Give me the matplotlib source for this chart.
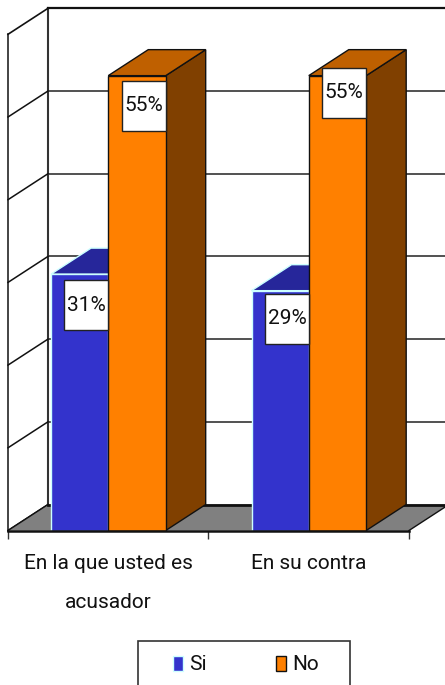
import matplotlib
matplotlib.use("Agg")
import matplotlib.pyplot as plt
from matplotlib.patches import Polygon, Rectangle

plt.rcParams['font.family'] = ['Roboto', 'Liberation Sans', 'DejaVu Sans']

categories = ['En la que usted es\nacusador', 'En su contra']
series_names = ['Si', 'No']
si_values = [31, 29]
no_values = [55, 55]
grid_values = [10, 20, 30, 40, 50, 60]

W, H = 445, 685
# plot box in pixels, the 3d depth is just an offset from it
left, right, bottom, top = 8, 409, 530.5, 34.3
px_x = 2 / (right - left)
px_y = 60 / (bottom - top)
dx = 40 * px_x
dy = 26 * px_y
bar_w = 0.2865
font_size = 15

blue, blue_top, blue_edge = '#3333CC', '#26269A', '#CCFFFF'
orange, orange_top, orange_side = '#FF8000', '#BF6000', '#804000'
dark = '#333333'


def draw_bar(ax, x, value, front, top_col, side_col, edge, z):
    ax.bar(x, value, bar_w, align='edge', color=front, edgecolor=edge, linewidth=1, zorder=z + 0.2)
    top_pts = [(x, value), (x + bar_w, value), (x + bar_w + dx, value + dy), (x + dx, value + dy)]
    side_pts = [(x + bar_w, 0), (x + bar_w + dx, dy), (x + bar_w + dx, value + dy), (x + bar_w, value)]
    ax.add_patch(Polygon(side_pts, fc=side_col, ec=edge, lw=1, zorder=z, clip_on=False))
    ax.add_patch(Polygon(top_pts, fc=top_col, ec=edge, lw=1, zorder=z + 0.1, clip_on=False))


def draw_label(ax, x_right, value, text, shift):
    # white box hangs from the bar top, shift is in pixels
    box_w, box_h = 44 * px_x, 50 * px_y
    y_top = value + shift * px_y
    ax.add_patch(Rectangle((x_right - box_w, y_top - box_h), box_w, box_h, fc='white',
                           ec='#222222', lw=1, zorder=10, clip_on=False))
    ax.text(x_right - box_w / 2, y_top - box_h / 2, text, ha='center', va='center',
            fontsize=font_size, color='#111111', zorder=11)


fig = plt.figure(figsize=(W / 100, H / 100), dpi=100)
ax = fig.add_axes([left / W, 1 - bottom / H, (right - left) / W, (bottom - top) / H])
ax.set_xlim(0, 2)
ax.set_ylim(0, 60)
ax.patch.set_visible(False)

# walls
ax.plot([dx, dx], [dy, 60 + dy], color=dark, lw=1.5, zorder=1, clip_on=False)
ax.plot([0, dx], [60, 60 + dy], color='#111111', lw=1.2, zorder=1, clip_on=False)
for v in grid_values:
    ax.plot([dx, 2 + dx], [v + dy, v + dy], color='#111111' if v == 60 else dark,
            lw=1.6 if v == 60 else 1.2, zorder=1, clip_on=False)
    ax.plot([0, dx], [v - 10, v - 10 + dy], color='#111111', lw=1.1, zorder=1.1, clip_on=False)

# floor
floor = [(0, 0), (2, 0), (2 + dx, dy), (dx, dy)]
ax.add_patch(Polygon(floor, fc='#808080', ec='none', zorder=1.5, clip_on=False))
ax.plot([dx, 2 + dx], [dy, dy], color='#111111', lw=2, zorder=1.6, clip_on=False)
ax.plot([0, dx], [0, dy], color='#111111', lw=1, zorder=1.6, clip_on=False)
ax.plot([2, 2 + dx], [0, dy], color='#111111', lw=1, zorder=1.6, clip_on=False)

si_x = [0.2145, 1.2145]
no_x = [0.5, 1.5]
si_shift = [-6, -3]
no_shift = [-5, 8]
for i in range(len(categories)):
    z = 2 + i * 2
    draw_bar(ax, si_x[i], si_values[i], blue, blue_top, blue, blue_edge, z)
    draw_bar(ax, no_x[i], no_values[i], orange, orange_top, orange_side, '#111111', z + 0.5)
    draw_label(ax, si_x[i] + bar_w, si_values[i], str(si_values[i]) + '%', si_shift[i])
    draw_label(ax, no_x[i] + bar_w, no_values[i], str(no_values[i]) + '%', no_shift[i])

for name in ['top', 'right']:
    ax.spines[name].set_visible(False)
ax.spines['left'].set_color('#111111')
ax.spines['left'].set_linewidth(1.1)
ax.spines['bottom'].set_color('#111111')
ax.spines['bottom'].set_linewidth(1.8)
ax.spines['bottom'].set_zorder(9)
ax.set_yticks([])
ax.set_xticks([0, 1, 2], ['', '', ''])
ax.tick_params(axis='x', which='major', length=5.8, width=1, color=dark)
ax.set_xticks([0.5, 1.5], categories, minor=True)
ax.tick_params(axis='x', which='minor', length=0, pad=17, labelsize=font_size, labelcolor='#111111')
for t in ax.get_xticklabels(minor=True):
    t.set_linespacing(2.3)

# legend, frame runs off the bottom of the picture
fig.add_artist(Rectangle((137.5 / W, 1 - 690 / H), 212.5 / W, 49.5 / H, transform=fig.transFigure,
                         fc='white', ec=dark, lw=1.2))
handles = [Rectangle((0, 0), 1, 1, fc=blue, ec=blue_edge, lw=1),
           Rectangle((0, 0), 1, 1, fc=orange, ec='#111111', lw=1)]
fig.legend(handles, series_names, ncols=2, frameon=False, fontsize=font_size, loc='center left',
           bbox_to_anchor=(173 / W, 1 - 665 / H), borderpad=0, borderaxespad=0,
           handlelength=0.5, handleheight=0.75, handletextpad=0.28, columnspacing=3.3,
           labelcolor='#111111')

fig.savefig('out.png', dpi=100)
